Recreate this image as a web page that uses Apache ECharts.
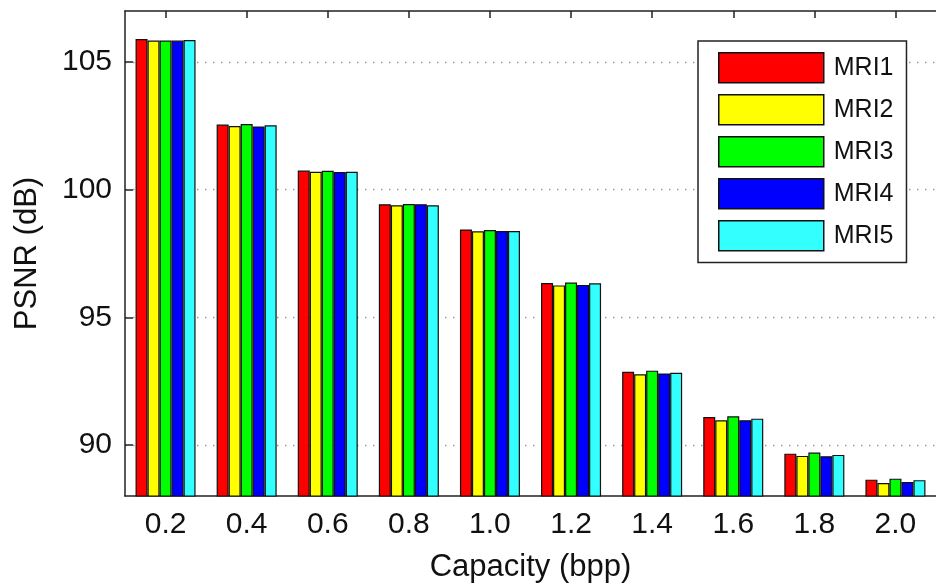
<!DOCTYPE html>
<html>
<head>
<meta charset="utf-8">
<script src="https://cdn.jsdelivr.net/npm/echarts@6/dist/echarts.min.js"></script>
<style>html,body{margin:0;padding:0;background:#fff;}#c{width:936px;height:588px;}</style>
</head>
<body>
<div id="c"></div>
<script>
const categories = ['0.2','0.4','0.6','0.8','1.0','1.2','1.4','1.6','1.8','2.0'];
const seriesNames = ['MRI1','MRI2','MRI3','MRI4','MRI5'];
const mri1 = [105.90, 102.55, 100.75, 99.43, 98.44, 96.34, 92.87, 91.09, 89.66, 88.64];
const mri2 = [105.84, 102.49, 100.70, 99.39, 98.37, 96.25, 92.77, 90.97, 89.57, 88.51];
const mri3 = [105.84, 102.57, 100.74, 99.44, 98.42, 96.36, 92.91, 91.12, 89.70, 88.68];
const mri4 = [105.84, 102.48, 100.69, 99.43, 98.38, 96.27, 92.80, 90.97, 89.56, 88.55];
const mri5 = [105.86, 102.52, 100.70, 99.39, 98.38, 96.33, 92.83, 91.03, 89.61, 88.62];
const yTicks = [90, 95, 100, 105];
const colors = ['#ff0000', '#ffff00', '#00ff00', '#0000ff', '#33ffff'];

const allData = [mri1, mri2, mri3, mri4, mri5];
const font = 'Liberation Sans, Arial, Helvetica, sans-serif';
const chart = echarts.init(document.getElementById('c'), null, {renderer: 'canvas'});
chart.setOption({
  animation: false,
  backgroundColor: '#fff',
  grid: {left: 125, top: 11, width: 818, height: 488, containLabel: false},
  legend: {
    orient: 'vertical',
    left: 698, top: 41,
    padding: [11, 13, 11, 20],
    itemWidth: 105, itemHeight: 30, itemGap: 10.5,
    icon: 'rect',
    backgroundColor: '#fff',
    borderColor: '#222', borderWidth: 1.5,
    textStyle: {fontFamily: font, fontSize: 25, color: '#111', padding: [0, 0, 0, 5]},
    itemStyle: {borderColor: '#111', borderWidth: 1.5},
    data: seriesNames
  },
  xAxis: [{
    type: 'category', data: categories, position: 'bottom',
    axisLine: {lineStyle: {color: '#222', width: 1.5}},
    axisTick: {show: false},
    axisLabel: {fontFamily: font, fontSize: 30, color: '#111', margin: 14},
    name: 'Capacity (bpp)', nameLocation: 'middle', nameGap: 56,
    nameTextStyle: {fontFamily: font, fontSize: 31, color: '#111'}
  }, {
    type: 'category', data: categories, position: 'top',
    axisLine: {show: true, lineStyle: {color: '#222', width: 1.5}},
    axisTick: {show: true, inside: true, alignWithLabel: true, length: 7, lineStyle: {color: '#222', width: 1.5}},
    axisLabel: {show: false}
  }],
  yAxis: {
    type: 'value', min: 88, max: 107,
    axisLine: {show: true, lineStyle: {color: '#222', width: 1.5}},
    axisTick: {show: true, inside: true, length: 8, customValues: yTicks, lineStyle: {color: '#222', width: 1.5}},
    axisLabel: {fontFamily: font, fontSize: 30, color: '#111', margin: 13, customValues: yTicks},
    splitLine: {show: true, lineStyle: {color: '#999', width: 1.3, type: [1.5, 6.5]}},
    name: 'PSNR (dB)', nameLocation: 'middle', nameGap: 82, nameRotate: 90,
    nameTextStyle: {fontFamily: font, fontSize: 31, color: '#111'}
  },
  series: seriesNames.map((n, i) => ({
    name: n, type: 'bar', xAxisIndex: 0,
    data: allData[i],
    barGap: '0%', barCategoryGap: '26%',
    itemStyle: {color: colors[i], borderColor: '#111', borderWidth: 1.2},
    clip: true
  }))
});
</script>
</body>
</html>
